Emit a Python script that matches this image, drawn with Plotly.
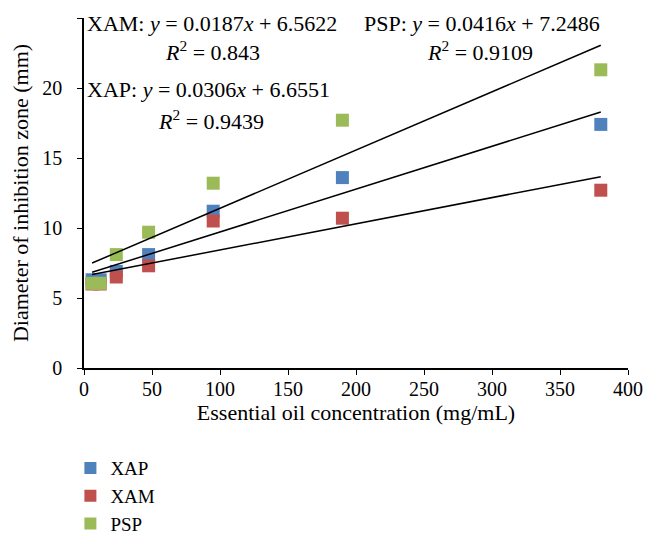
import plotly.graph_objects as go

conc = [5.94, 11.875, 23.75, 47.5, 95, 190, 380]
xap = [6.3, 6.3, 6.9, 8.1, 11.2, 13.6, 17.4]
xam = [6.0, 6.0, 6.5, 7.3, 10.5, 10.7, 12.7]
psp = [6.05, 6.05, 8.1, 9.7, 13.2, 17.7, 21.3]

fits = {"XAP": (0.0306, 6.6551), "XAM": (0.0187, 6.5622), "PSP": (0.0416, 7.2486)}
colors = {"XAP": "#4F81BD", "XAM": "#C0504D", "PSP": "#9BBB59"}
series = {"XAP": xap, "XAM": xam, "PSP": psp}

font = "Liberation Serif, Times New Roman, serif"
fig = go.Figure()
for name in ["XAP", "XAM", "PSP"]:
    fig.add_trace(go.Scatter(x=conc, y=series[name], mode="markers", name=name,
                             marker=dict(symbol="square", size=13, color=colors[name])))
xr = [conc[0], conc[-1]]
for name in ["XAM", "XAP", "PSP"]:
    a, b = fits[name]
    fig.add_trace(go.Scatter(x=xr, y=[a * v + b for v in xr], mode="lines",
                             line=dict(color="black", width=1.5), showlegend=False,
                             hoverinfo="skip"))

labels = [
    "XAM: <i>y</i> = 0.0187<i>x</i> + 6.5622",
    "<i>R</i><sup>2</sup> = 0.843",
    "XAP: <i>y</i> = 0.0306<i>x</i> + 6.6551",
    "<i>R</i><sup>2</sup> = 0.9439",
    "PSP: <i>y</i> = 0.0416<i>x</i> + 7.2486",
    "<i>R</i><sup>2</sup> = 0.9109",
]
pos = [(0.002, 0.985, "left"), (0.237, 0.906, "center"), (0.002, 0.797, "left"),
       (0.233, 0.709, "center"), (0.511, 0.985, "left"), (0.728, 0.906, "center")]
for t, (px, py, al) in zip(labels, pos):
    fig.add_annotation(x=px, y=py, xref="paper", yref="paper", text=t, showarrow=False,
                       xanchor=al, yanchor="middle",
                       font=dict(family=font, size=22, color="black"))

fig.update_layout(
    width=657, height=551,
    margin=dict(l=76, r=37, t=10, b=191),
    paper_bgcolor="white", plot_bgcolor="white",
    font=dict(family=font, size=20, color="black"),
    showlegend=True,
    legend=dict(x=-0.025, y=-0.232, xanchor="left", yanchor="top",
                font=dict(family=font, size=19), tracegroupgap=0,
                itemsizing="constant"),
    xaxis=dict(range=[0, 400], dtick=50, showline=True, linecolor="black", linewidth=1.5,
               ticks="outside", ticklen=5, tickcolor="black", showgrid=False, zeroline=False,
               automargin=False, tickfont=dict(size=20), ticklabelstandoff=-3,
               title=dict(text="Essential oil concentration (mg/mL)", font=dict(size=22), standoff=0)),
    yaxis=dict(range=[0, 25], dtick=5, showline=True, linecolor="black", linewidth=1.5,
               ticks="outside", ticklen=5, tickcolor="black", showgrid=False, zeroline=False,
               automargin=False, tickfont=dict(size=20), ticklabelstandoff=11,
               title=dict(text="Diameter of inhibition zone (mm)", font=dict(size=22), standoff=9)),
)
fig.write_html("out.html")
